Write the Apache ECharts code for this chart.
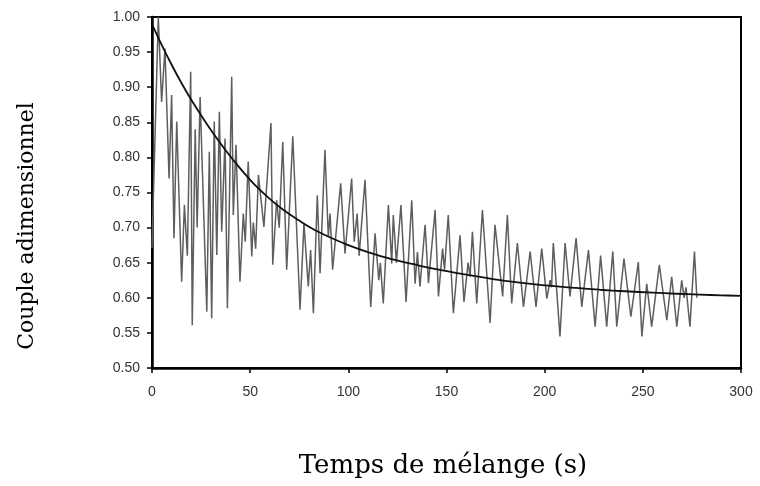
<!DOCTYPE html>
<html>
<head>
<meta charset="utf-8">
<script src="https://cdn.jsdelivr.net/npm/echarts@6/dist/echarts.min.js"></script>
<style>html,body{margin:0;padding:0;background:#fff;}#c{width:760px;height:486px;}</style>
</head>
<body>
<div id="c"></div>
<script>
// Measured torque (time s, dimensionless torque)
const measT = [0,3.2,4.9,6.6,8.7,10,11.2,12.6,15.1,16.5,18,19.7,20.5,22,23,24.5,27.9,29.2,30.4,31.7,33,34.3,35.5,37.2,38.4,40.6,41.4,42.8,44.8,46.5,47.5,49,50.8,51.6,52.8,54.2,57,60.6,61.5,63.5,64.8,66.6,68.6,71.7,75.4,77.4,79.6,80.8,82.2,84.2,85.6,88.1,89.8,90.7,92,96.1,98.3,101.7,103,104.5,105.5,108.5,111.4,113.6,115.5,116.3,117.8,120.4,122.1,122.9,124.5,126.8,129.4,132.3,134,135.2,136.5,139.1,140.8,144.2,145.9,148,149,150.9,153.5,156.9,158.9,161,162,163.2,165.4,168.3,172.2,174.7,178.6,181,183.2,186.1,189.2,192.6,195.6,198.5,201.1,202.8,203.5,204.4,207.8,210.4,212.9,216,218.9,222.3,225.7,228.5,231.6,234.7,236.7,240.4,243.9,247.7,249.5,252,254.5,258.4,262.2,264.7,267.3,269.8,271,272,274,276.3,277.5];
const measV = [0.671,1.00,0.879,0.955,0.77,0.889,0.685,0.851,0.623,0.732,0.66,0.922,0.561,0.84,0.70,0.886,0.58,0.808,0.571,0.851,0.661,0.865,0.694,0.827,0.585,0.915,0.718,0.818,0.623,0.72,0.68,0.794,0.659,0.707,0.67,0.775,0.701,0.849,0.647,0.739,0.70,0.822,0.64,0.83,0.583,0.706,0.616,0.668,0.578,0.746,0.635,0.811,0.687,0.72,0.64,0.763,0.663,0.77,0.68,0.72,0.66,0.768,0.587,0.692,0.625,0.65,0.592,0.732,0.649,0.718,0.65,0.732,0.594,0.739,0.62,0.665,0.616,0.704,0.621,0.725,0.602,0.67,0.64,0.718,0.578,0.689,0.594,0.65,0.63,0.694,0.592,0.725,0.564,0.704,0.602,0.718,0.592,0.678,0.587,0.666,0.587,0.67,0.599,0.625,0.615,0.678,0.545,0.678,0.602,0.685,0.587,0.668,0.559,0.66,0.559,0.666,0.559,0.656,0.573,0.651,0.545,0.62,0.559,0.647,0.568,0.63,0.559,0.625,0.60,0.615,0.559,0.666,0.60];
// Fitted curve
const fitT = [0,5,10,15,20,25,30,37,45,52,60,67,75,82,90,100,110,122,136,148,160,171,182,193,205,216,228,241,255,267,279,290,300];
const fitV = [0.99,0.96,0.932,0.906,0.882,0.86,0.839,0.812,0.784,0.762,0.741,0.725,0.71,0.698,0.687,0.675,0.665,0.655,0.646,0.639,0.633,0.628,0.6235,0.6198,0.6165,0.614,0.6115,0.6093,0.6073,0.6058,0.6045,0.6035,0.6028];
const xTicks = [0,50,100,150,200,250,300];
const yTicks = [0.50,0.55,0.60,0.65,0.70,0.75,0.80,0.85,0.90,0.95,1.00];
const xTitle = 'Temps de mélange (s)';
const yTitle = 'Couple adimensionnel';

const zip = (a,b)=>a.map((t,i)=>[t,b[i]]);
const chart = echarts.init(document.getElementById('c'), null, {renderer:'canvas'});
chart.setOption({
  animation:false,
  backgroundColor:'#fff',
  grid:{left:152,right:19,top:17,bottom:118,show:true,borderColor:'#000',borderWidth:2,backgroundColor:'transparent'},
  xAxis:{type:'value',min:xTicks[0],max:xTicks[xTicks.length-1],interval:50,
    axisLine:{show:true,lineStyle:{color:'#000',width:2.5}},
    axisTick:{show:true,length:5,lineStyle:{color:'#000',width:1.5}},
    axisLabel:{fontFamily:'Liberation Sans',fontSize:14,color:'#333',margin:17},
    splitLine:{show:false}},
  yAxis:{type:'value',min:yTicks[0],max:yTicks[yTicks.length-1],interval:0.05,
    axisLine:{show:true,lineStyle:{color:'#000',width:2.5}},
    axisTick:{show:true,length:5,lineStyle:{color:'#000',width:1.5}},
    axisLabel:{fontFamily:'Liberation Sans',fontSize:14,color:'#333',margin:12,formatter:v=>v.toFixed(2)},
    splitLine:{show:false}},
  graphic:[
    {type:'text',position:[443,466],style:{text:xTitle,font:'26px "DejaVu Serif"',fill:'#000',align:'center',verticalAlign:'middle'}},
    {type:'text',position:[27,226],rotation:Math.PI/2,style:{text:yTitle,font:'22px "DejaVu Serif"',fill:'#000',align:'center',verticalAlign:'middle'}}
  ],
  series:[
    {type:'line',data:zip(measT,measV),showSymbol:false,lineStyle:{color:'#5e5e5e',width:1.5},z:2},
    {type:'line',data:zip(fitT,fitV),showSymbol:false,smooth:0.4,lineStyle:{color:'#111',width:1.8},z:3}
  ]
});
</script>
</body>
</html>
